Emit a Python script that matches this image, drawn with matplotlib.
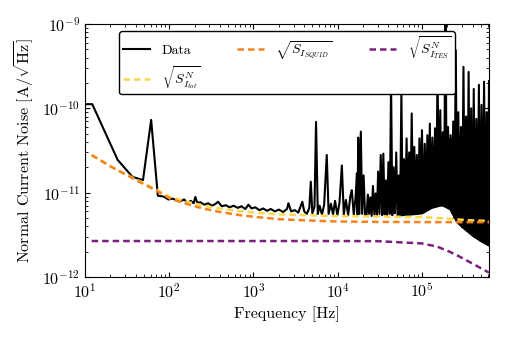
import numpy as np
import matplotlib as mpl
import matplotlib.pyplot as plt

mpl.rcParams.update({
    "font.family": "serif", "font.serif": ["cmr10"],
    "mathtext.fontset": "cm", "axes.formatter.use_mathtext": True,
    "font.size": 11.5,
})

low_f = [10.0, 12.2, 24.4, 36.6, 48.8, 61.0, 73.2, 85.4, 97.7, 110, 122]
low_y = [112, 112, 24.5, 15.4, 14.1, 73, 9.2, 9.0, 8.3, 8.5, 8.1]

mid_f = [135, 150, 165, 180, 195, 204, 215, 235, 260, 290, 320, 350, 380,
         420, 470, 520, 580, 650, 720, 800, 870, 950, 1050, 1180, 1300, 1450,
         1600, 1800, 2000, 2250, 2500, 2600, 2800, 3100, 3400, 3800]
mid_y = [7.9, 8.3, 7.6, 8.0, 7.5, 8.9, 7.6, 7.7, 7.2, 7.5, 7.0, 7.3, 7.8,
         6.9, 7.1, 6.7, 7.0, 6.6, 6.9, 6.4, 7.2, 6.5, 6.7, 6.2, 6.5, 6.1,
         6.4, 6.0, 6.3, 5.9, 6.4, 7.5, 6.0, 6.2, 5.8, 7.8]

# kHz
spk_f = [4.0, 4.3, 4.6, 4.79, 5.0, 5.3, 5.53, 5.8, 6.1, 6.5, 6.9, 7.41, 7.8,
         8.3, 8.8, 9.3, 9.9, 10.5, 11.2, 11.8, 12.5, 13.3, 14.1, 14.7, 15.5,
         16.3, 16.9, 17.2, 17.5, 18.1, 18.8, 19.5, 20.3, 21.1]
spk_y = [6.0, 5.6, 6.6, 13.5, 5.7, 6.8, 69, 5.6, 7.0, 5.5, 7.2, 28, 5.6,
         7.4, 5.5, 8.0, 5.4, 7.6, 21, 5.5, 8.2, 5.4, 9.0, 10.7, 5.5,
         8.8, 17, 5.5, 45, 5.6, 53, 5.6, 16, 5.5]

hi_f = [22, 22.8, 23.6, 24.4, 25.3, 26.2, 27.2, 28.2, 29.2, 30.2, 31.3, 32.4,
        33.6, 34.8, 36, 37.3, 38.6, 40, 41.5, 43, 44.5, 46.1, 47.8, 49.5,
        51.3, 53.1, 55, 57, 59, 61.2, 63.4, 65.7, 68, 70.5, 73, 75.6, 78.3,
        81.1, 84, 87, 90.2, 93.4, 96.8, 100, 104, 108, 112, 116, 120, 124,
        128, 133, 138, 143, 148, 153, 159, 165, 171, 177, 183, 190, 197, 204,
        211, 219, 227, 235, 243, 252, 261, 270, 280, 290, 300, 311, 322, 334,
        346, 358, 371, 384, 398, 412, 427, 442, 458, 474, 491, 509, 527, 546,
        566, 586, 607, 625]
hi_y = [5.4, 9.5, 5.6, 8.8, 5.3, 12, 5.5, 9.8, 5.3, 17.8, 5.6, 28,
        5.4, 29, 5.5, 14, 5.3, 23, 5.6, 200, 5.4, 20, 5.7, 30,
        5.3, 16, 5.6, 150, 5.4, 25, 5.8, 44, 5.5, 30, 6.0, 87, 5.6,
        35, 6.2, 28, 5.8, 44, 6.4, 55, 6.0, 38, 6.5, 48, 6.8, 66,
        6.6, 45, 7.0, 58, 6.9, 300, 7.1, 95, 7.0, 52, 7.1, 2000, 6.8, 60,
        6.5, 48, 5.8, 70, 5.0, 490, 4.5, 90, 4.2, 60, 3.9, 310, 3.7, 80,
        3.5, 270, 3.3, 100, 3.1, 170, 3.0, 75, 2.9, 190, 2.7, 110, 2.6, 207,
        2.5, 90, 2.4, 210]

# dense body of the spectrum at high frequency (kHz, pA/rtHz)
band_f = [50, 70, 100, 130, 170, 210, 250, 300, 400, 500, 625]
band_lo = [5.3, 5.4, 5.6, 6.5, 7.0, 6.3, 4.5, 3.8, 3.0, 2.6, 2.3]
band_hi = [9, 14, 25, 35, 42, 45, 48, 50, 55, 55, 55]

# noise models (Hz, pA/rtHz)
model_f = [12, 20, 30, 50, 70, 100, 150, 250, 400, 700, 1e3, 2e3, 4e3, 1e4,
           3e4, 1e5, 1.5e5, 2e5, 2.5e5, 3e5, 3.7e5, 4.5e5, 5.3e5, 6.25e5]
squid = [27.9, 20.5, 16.5, 12.6, 10.6, 8.6, 7.5, 6.5, 5.9, 5.4, 5.18, 4.85,
         4.7, 4.55, 4.5, 4.48, 4.47, 4.47, 4.47, 4.47, 4.47, 4.47, 4.47, 4.47]
tes = [2.67, 2.67, 2.67, 2.67, 2.67, 2.67, 2.67, 2.67, 2.67, 2.67, 2.67, 2.67,
       2.67, 2.67, 2.66, 2.5, 2.3, 2.05, 1.85, 1.68, 1.50, 1.35, 1.23, 1.13]
total = [28.0, 20.7, 16.7, 12.9, 10.9, 9.0, 7.96, 7.03, 6.47, 6.02, 5.83, 5.53,
         5.41, 5.28, 5.22, 5.13, 5.03, 4.91, 4.83, 4.77, 4.71, 4.67, 4.64, 4.61]

pA = 1e-12
data_f = np.array(low_f + mid_f + [f * 1e3 for f in spk_f + hi_f])
data_y = np.array(low_y + mid_y + spk_y + hi_y) * pA

fig = plt.figure(figsize=(5.07, 3.38), dpi=100)
ax = fig.add_axes([85 / 507, 61 / 338, 404 / 507, 253 / 338])

ax.fill_between(np.array(band_f) * 1e3, np.array(band_lo) * pA,
                np.array(band_hi) * pA, color="k", lw=0, zorder=1)
ax.plot(data_f, data_y, color="k", lw=1.5, label="Data", zorder=2)
dash = dict(lw=1.8, ls=(0, (2.6, 1.6)), zorder=3)
mf = np.array(model_f)
ax.plot(mf, np.array(total) * pA, color="#f9d84a",
        label=r"$\sqrt{S^N_{I_{tot}}}$", **dash)
ax.plot(mf, np.array(squid) * pA, color="#f5821f",
        label=r"$\sqrt{S_{I_{SQUID}}}$", **dash)
ax.plot(mf, np.array(tes) * pA, color="#7b1f7c",
        label=r"$\sqrt{S^N_{I_{TES}}}$", **dash)

ax.set_xscale("log")
ax.set_yscale("log")
ax.set_xlim(10, 6.25e5)
ax.set_ylim(1e-12, 1e-9)
ax.tick_params(which="both", direction="in", top=True, right=True)
ax.set_xlabel("Frequency [Hz]")
ax.set_ylabel(r"Normal Current Noise [A/$\sqrt{\mathrm{Hz}}$]")

leg = ax.legend(loc="upper center", ncol=3, fontsize=10, framealpha=1,
                edgecolor="k", borderpad=0.25, columnspacing=2.6)
leg.set_zorder(5)

fig.savefig("out.png", dpi=100)
